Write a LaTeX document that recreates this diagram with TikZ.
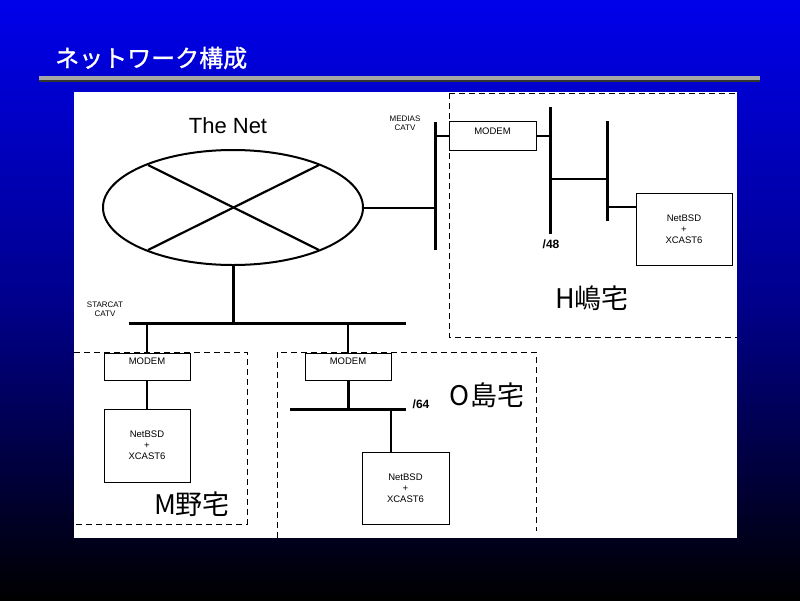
\documentclass[tikz,border=0pt]{standalone}
\usepackage{fontspec}
\setmainfont{Liberation Sans}
\newfontfamily\jp{Noto Sans CJK JP}
\newfontfamily\jpb[FakeBold=1.2]{Noto Sans CJK JP}
\usetikzlibrary{shapes.geometric}
\begin{document}
\begin{tikzpicture}[x=1pt,y=-1pt,
  bus/.style={line width=3pt},
  thin/.style={line width=2pt},
  boxn/.style={draw,line width=1pt,fill=white,inner sep=0pt,font=\fontsize{9.5}{11}\selectfont,align=center},
  dbox/.style={draw,line width=1pt,dash pattern=on 6pt off 4pt},
  small/.style={font=\fontsize{8}{9}\selectfont,align=center,inner sep=0pt},
  home/.style={font=\jp\fontsize{27}{29}\selectfont,inner sep=0pt}]
\useasboundingbox (0,0) rectangle (800,600);
\shade[top color={rgb,255:red,0;green,0;blue,235}, bottom color=black, middle color={rgb,255:red,0;green,0;blue,140}] (0,0) rectangle (800,600);
% title
\node[anchor=west,text=white,font=\jpb\fontsize{24}{26}\selectfont,inner sep=0pt] (title) at (55,58) {ネットワーク構成};
\fill[gray!70] (39,76) rectangle (760,79.5);
\fill[gray!40!black] (39,79.5) rectangle (760,81.5);
% white panel
\fill[white] (74,92) rectangle (737,538);
% dashed house boxes
\draw[dbox] (449,93) -- (737,93);
\draw[dbox] (449,93) -- (449,337) -- (737,337);
\draw[dbox] (74,352) -- (247,352) -- (247,524) -- (74,524);
\draw[dbox] (277,538) -- (277,352) -- (536,352) -- (536,531);
% The Net
\node[font=\fontsize{22}{24}\selectfont,inner sep=0pt] (thenet) at (228,126) {The Net};
\node[draw,ellipse,line width=2pt,minimum width=260pt,minimum height=115pt,inner sep=0pt] (net) at (233,207.5) {};
\coordinate (x1) at (148,165); \coordinate (x2) at (319,250);
\coordinate (x3) at (148,250); \coordinate (x4) at (319,165);
\draw[line width=2.2pt] (x1) -- (x2);
\draw[line width=2.2pt] (x3) -- (x4);
% MEDIAS side
\coordinate (mb1) at (435,122); \coordinate (mb2) at (435,250);
\draw[bus] (mb1) -- (mb2);
\draw[thin] (net.east) -- (net.east -| mb1);
\node[small] (medias) at (405,123) {MEDIAS\\CATV};
\node[boxn,minimum width=87pt,minimum height=29pt] (modemH) at (492.5,135.5) {};
\node[font=\fontsize{9.5}{11}\selectfont,inner sep=0pt] at (492.5,131) {MODEM};
\draw[thin] (435,136) -- (modemH.west |- 0,136);
\coordinate (hb1) at (550,107); \coordinate (hb2) at (550,234);
\draw[bus] (hb1) -- (hb2);
\draw[thin] (modemH.east |- 0,136) -- (550,136);
\coordinate (hc1) at (607,121); \coordinate (hc2) at (607,221);
\draw[bus] (hc1) -- (hc2);
\draw[thin] (550,179) -- (607,179);
\node[boxn,minimum width=96pt,minimum height=72pt] (pcH) at (684,229) {NetBSD\\+\\XCAST6};
\draw[thin] (607,207) -- (pcH.west |- 0,207);
\node[font=\bfseries\fontsize{12}{13}\selectfont,inner sep=0pt] (p48) at (551,244) {/48};
\node[home] (homeH) at (592,298) {H嶋宅};
% STARCAT side
\coordinate (sb1) at (129,323); \coordinate (sb2) at (406,323);
\draw[bus] (net.south) -- (233,323);
\draw[bus] (sb1) -- (sb2);
\node[small] (starcat) at (105,309) {STARCAT\\CATV};
% M house
\node[boxn,minimum width=86pt,minimum height=27pt] (modemM) at (147,366.5) {};
\node[font=\fontsize{9.5}{11}\selectfont,inner sep=0pt] at (147,361) {MODEM};
\draw[thin] (147,323) -- (modemM.north);
\node[boxn,minimum width=86pt,minimum height=73pt] (pcM) at (147,445.5) {NetBSD\\+\\XCAST6};
\draw[thin] (modemM.south) -- (pcM.north);
\node[home] (homeM) at (192,504) {M野宅};
% O house
\node[boxn,minimum width=86pt,minimum height=27pt] (modemO) at (348,366.5) {};
\node[font=\fontsize{9.5}{11}\selectfont,inner sep=0pt] at (348,361) {MODEM};
\draw[thin] (348,323) -- (modemO.north);
\coordinate (ob1) at (290,409); \coordinate (ob2) at (406,409);
\draw[bus] (ob1) -- (ob2);
\draw[bus] (modemO.south) -- (348,409);
\node[boxn,minimum width=87pt,minimum height=72pt] (pcO) at (405.5,488) {NetBSD\\+\\XCAST6};
\draw[thin] (391,409) -- (pcO.north -| 391,0);
\node[font=\bfseries\fontsize{12}{13}\selectfont,inner sep=0pt] (p64) at (421,404) {/64};
\node[home] (homeO) at (487,395) {O島宅};
\end{tikzpicture}
\end{document}
